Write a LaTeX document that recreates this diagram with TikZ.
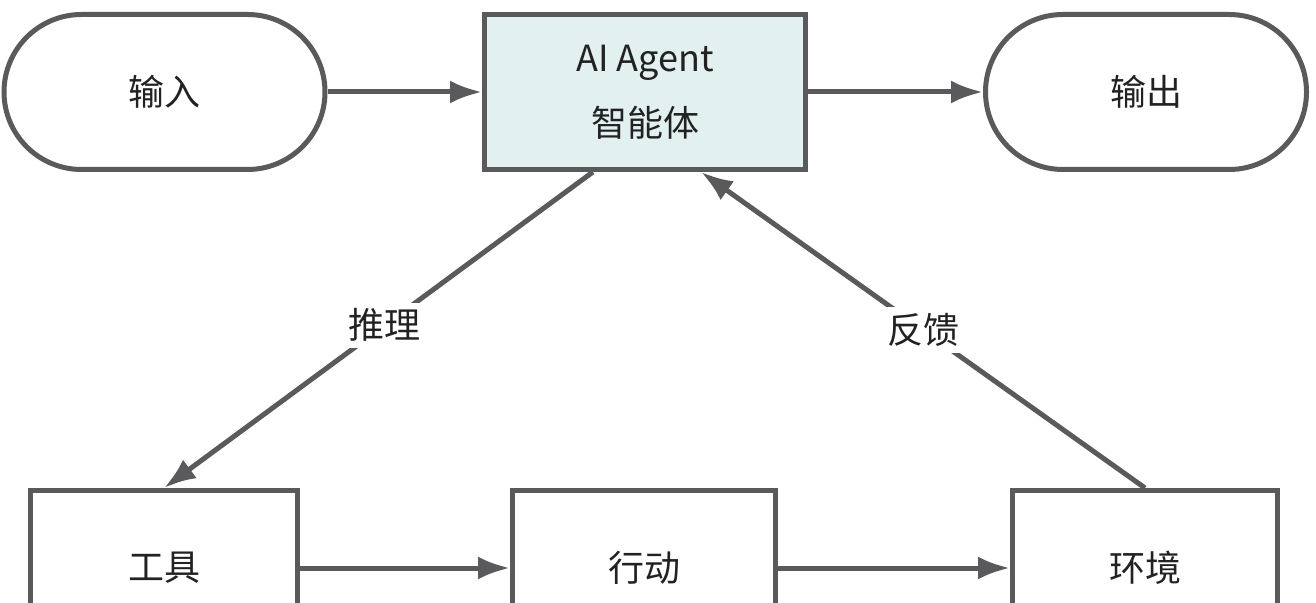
\documentclass[tikz,border=0pt]{standalone}
\usepackage{fontspec}
\newfontfamily\cjk{Noto Sans CJK SC}
\usetikzlibrary{arrows.meta,calc}
\definecolor{linegray}{HTML}{5A5A5C}
\definecolor{txt}{HTML}{222222}
\definecolor{agentfill}{HTML}{E2F0F0}
\begin{document}
\begin{tikzpicture}[x=0.5pt,y=-0.5pt,
  base/.style={draw=linegray,line width=2.5pt,text=txt,font=\cjk\fontsize{18pt}{32.5pt}\selectfont,align=center,inner sep=0pt},
  stadium/.style={base,fill=white,minimum width=160.5pt,minimum height=77.5pt,rounded corners=38.75pt},
  agentbox/.style={base,fill=agentfill,minimum width=160.5pt,minimum height=77.5pt},
  stepbox/.style={base,fill=white,minimum height=77.5pt},
  conn/.style={draw=linegray,line width=2.5pt,-{Latex[length=16pt,width=11.5pt]}},
  lbl/.style={fill=white,text=txt,font=\cjk\fontsize{18pt}{22pt}\selectfont,inner sep=3pt}]
\clip (0,0) rectangle (1316,603);
\fill[white] (0,0) rectangle (1316,603);
\node[stadium] (in) at (164.5,92) {输入};
\node[agentbox] (agent) at (645,92) {AI Agent\\智能体};
\node[stadium] (out) at (1146,92) {输出};
\node[stepbox,minimum width=133.5pt] (tool) at (164,568) {工具};
\node[stepbox,minimum width=131.5pt] (act) at (644,568) {行动};
\node[stepbox,minimum width=132.5pt] (env) at (1145,568) {环境};
\draw[conn] (in) -- (agent);
\draw[conn] (agent) -- (out);
\draw[conn] (tool) -- (act);
\draw[conn] (act) -- (env);
\coordinate (aL) at ($(agent.south west)!0.34!(agent.south east)$);
\coordinate (aR) at ($(agent.south west)!0.672!(agent.south east)$);
\draw[conn] (aL) -- node[lbl,pos=0.485] {推理} (tool.north);
\draw[conn] (env.north) -- node[lbl,pos=0.5] {反馈} (aR);
\end{tikzpicture}
\end{document}
